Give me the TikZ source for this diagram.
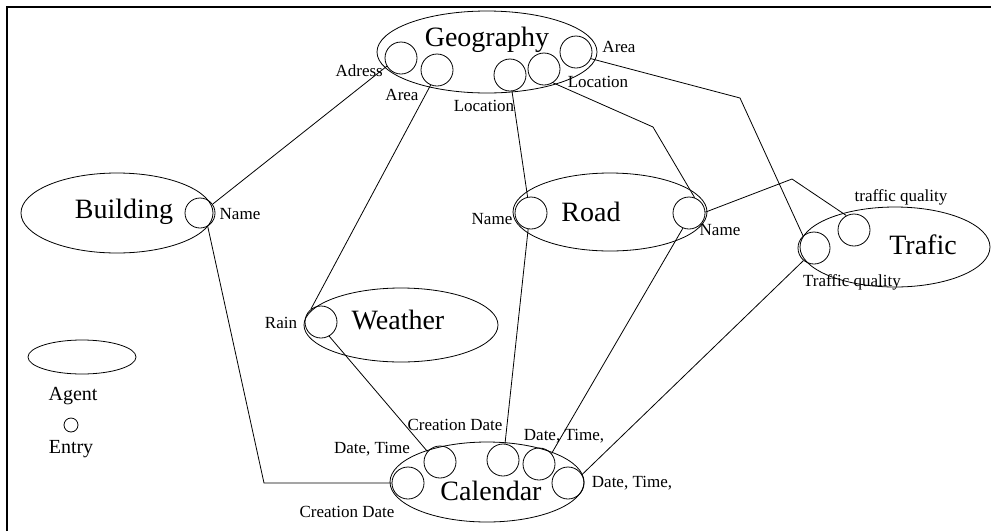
\documentclass[tikz,border=0pt]{standalone}
\usepackage{fontspec}
\setmainfont{Liberation Serif}
\usetikzlibrary{shapes.geometric}
\begin{document}
\begin{tikzpicture}[x=1pt,y=-1pt,
  agent/.style={draw, ellipse, line width=0.8pt, inner sep=0pt},
  entry/.style={draw, circle, line width=0.8pt, minimum size=32pt, inner sep=0pt},
  title/.style={font=\fontsize{28}{30}\selectfont, inner sep=0pt},
  lbl/.style={font=\fontsize{17}{19}\selectfont, inner sep=0pt},
  legend/.style={font=\fontsize{20}{22}\selectfont, inner sep=0pt},
  link/.style={line width=0.8pt}]
\useasboundingbox (0,0) rectangle (991,531);
% frame
\draw[line width=2pt] (7,531) -- (7,7) -- (991,7);

% agents
\node[agent, minimum width=220pt, minimum height=82pt] (geo) at (487,52) {};
\node[agent, minimum width=192pt, minimum height=80pt] (bld) at (117,213) {};
\node[agent, minimum width=194pt, minimum height=78pt] (road) at (610,212) {};
\node[agent, minimum width=190pt, minimum height=80pt] (traf) at (895,247) {};
\node[agent, minimum width=194pt, minimum height=74pt] (wea) at (401,325) {};
\node[agent, minimum width=194pt, minimum height=80pt] (cal) at (487,482) {};

\node[title] (geoT) at (487,40) {Geography};
\node[title] (bldT) at (124,212) {Building};
\node[title] (roadT) at (591,212) {Road};
\node[title] (trafT) at (923,245) {Trafic};
\node[title] (weaT) at (398,320) {Weather};
\node[title] (calT) at (491,491) {Calendar};

% entries
\node[entry] (geoAdr) at (401,58) {};
\node[entry] (geoArea) at (437,70) {};
\node[entry] (geoLocA) at (510,75) {};
\node[entry] (geoLocB) at (544,69) {};
\node[entry] (geoAreaB) at (576,52) {};
\node[entry, minimum size=30pt] (bldName) at (200,213) {};
\node[entry] (roadNameA) at (531,213) {};
\node[entry] (roadNameB) at (689,213) {};
\node[entry] (trafQA) at (814,248) {};
\node[entry] (trafQB) at (854,230) {};
\node[entry] (weaRain) at (321,322) {};
\node[entry] (calCD) at (408,483) {};
\node[entry] (calDT) at (440,462) {};
\node[entry] (calCDB) at (503,460) {};
\node[entry] (calDTB) at (539,464) {};
\node[entry] (calDTC) at (568,483) {};

% entry labels
\node[lbl, anchor=east] (lAdr) at (383,71) {Adress};
\node[lbl] (lArea) at (402,95) {Area};
\node[lbl] (lLocA) at (484,106) {Location};
\node[lbl] (lLocB) at (598,82) {Location};
\node[lbl] (lAreaB) at (619,47) {Area};
\node[lbl] (lBName) at (240,214) {Name};
\node[lbl] (lRNameA) at (492,219) {Name};
\node[lbl] (lRNameB) at (720,230) {Name};
\node[lbl] (lTQA) at (852,282) {Traffic quality};
\node[lbl] (lTQB) at (901,197) {traffic quality};
\node[lbl] (lRain) at (281,323) {Rain};
\node[lbl] (lCD) at (347,512) {Creation Date};
\node[lbl] (lDT) at (372,449) {Date, Time};
\node[lbl] (lCDB) at (455,425) {Creation Date};
\node[lbl] (lDTB) at (564,436) {Date, Time,};
\node[lbl] (lDTC) at (632,483) {Date, Time,};

% legend
\node[agent, minimum width=108pt, minimum height=34pt] (legA) at (82,357) {};
\node[legend] (legAT) at (73,396) {Agent};
\node[draw, circle, line width=0.8pt, minimum size=14pt, inner sep=0pt] (legE) at (71,425) {};
\node[legend] (legET) at (71,449) {Entry};

% bend points
\coordinate (kBld) at (264,483);
\coordinate (kLoc) at (653,127);
\coordinate (kArea) at (740,98);
\coordinate (kRoad) at (792,179);

% connectors
\draw[link] (bldName.35) -- (geoAdr.210);
\draw[link] (bldName.-60) -- (kBld) -- (calCD.west);
\draw[link] (weaRain.128) -- (geoArea.-113);
\draw[link] (weaRain.-60) -- (calDT.140);
\draw[link] (geoLocA.-83) -- (roadNameA.102);
\draw[link] (geoLocB.-57) -- (kLoc) -- (roadNameB.70);
\draw[link] (geoAreaB.-24) -- (kArea) -- (trafQA.132);
\draw[link] (roadNameB.3) -- (kRoad) -- (trafQB.118);
\draw[link] (roadNameA.-100) -- (calCDB.83);
\draw[link] (roadNameB.-112) -- (calDTB.40);
\draw[link] (trafQA.-130) -- (calDTC.31);
\end{tikzpicture}
\end{document}
